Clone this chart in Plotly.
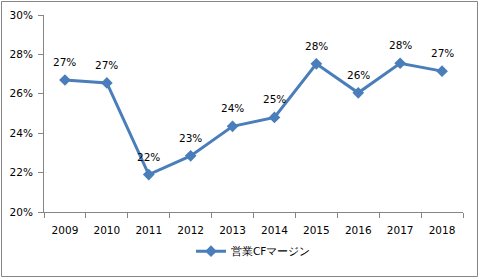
import plotly.graph_objects as go

years = ["2009", "2010", "2011", "2012", "2013", "2014", "2015", "2016", "2017", "2018"]
cf_margin = [0.2670, 0.2655, 0.2190, 0.2285, 0.2435, 0.2480, 0.2752, 0.2605, 0.2755, 0.2715]
series_name = "営業CFマージン"
y_ticks = [0.20, 0.22, 0.24, 0.26, 0.28, 0.30]

FONT = "DejaVu Sans"
BLUE = "#4A7EBB"
AXIS = "#868686"

fig = go.Figure()
fig.add_trace(go.Scatter(
    x=years, y=cf_margin, mode="lines+markers", name=series_name,
    line=dict(color=BLUE, width=3),
    marker=dict(symbol="diamond", size=9, color=BLUE),
))

for i, y in enumerate(cf_margin):
    fig.add_annotation(x=i, y=y, text=f"{round(y*100)}%", showarrow=False,
                       yshift=18, font=dict(family=FONT, size=10.5, color="#000000"))

L, R, T, B = 44, 17, 15, 67
W, H = 480, 279
pw, ph = W - L - R, H - T - B
fig.add_shape(type="rect", xref="paper", yref="paper",
              x0=(1.5 - L) / pw, x1=(477.5 - L) / pw,
              y0=(H - B - 276.5) / ph, y1=(H - B - 1.5) / ph,
              line=dict(color=AXIS, width=1), layer="below")

fig.update_layout(
    width=W, height=H,
    margin=dict(l=L, r=R, t=T, b=B, autoexpand=False),
    paper_bgcolor="white", plot_bgcolor="white",
    font=dict(family=FONT, size=10.5, color="#000000"),
    showlegend=True,
    legend=dict(orientation="h", x=0.5, xanchor="center", y=-0.125, yanchor="top",
                font=dict(family=FONT, size=10.5)),
    xaxis=dict(type="category", range=[-0.5, len(years) - 0.5], showgrid=False,
               showline=True, linecolor=AXIS, linewidth=1, automargin=False,
               ticks="outside", tickson="boundaries", ticklen=5, tickcolor=AXIS,
               ticklabelstandoff=8,
               tickangle=0, tickfont=dict(family=FONT, size=10.5)),
    yaxis=dict(range=[0.20, 0.30], tickvals=y_ticks, tickformat=".0%", showgrid=False,
               showline=True, linecolor=AXIS, linewidth=1, ticks="outside", ticklen=5,
               ticklabelstandoff=3, automargin=False,
               tickcolor=AXIS, zeroline=False, tickfont=dict(family=FONT, size=10.5)),
)

fig.write_html("out.html")
